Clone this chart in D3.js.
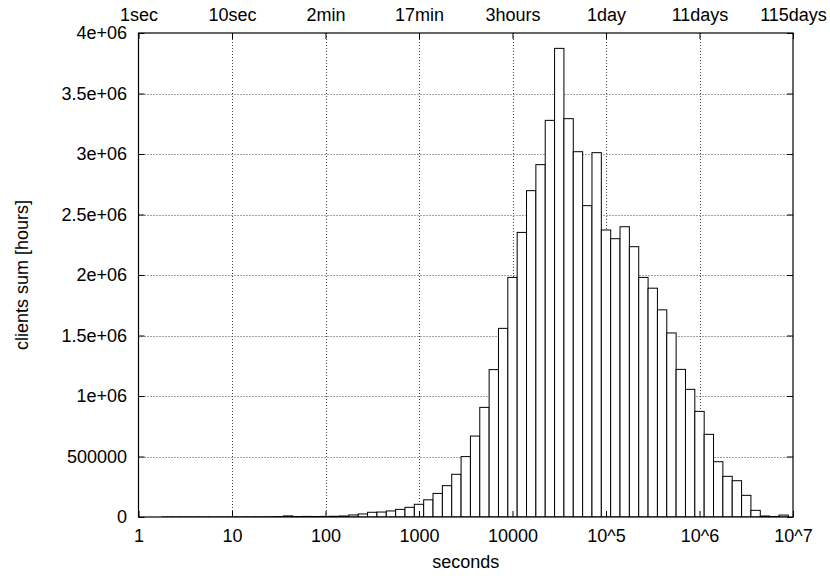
<!DOCTYPE html>
<html>
<head>
<meta charset="utf-8">
<script src="https://cdn.jsdelivr.net/npm/d3@7"></script>
<style>
  html, body { margin: 0; padding: 0; background: #fff; }
  svg { display: block; }
  text { font-family: "Liberation Sans", Arial, Helvetica, sans-serif; fill: #000; }
</style>
</head>
<body>
<svg id="chart" width="830" height="576"></svg>
<script>
// Histogram of session durations: 10 logarithmic bins per decade,
// bin k is centred on 10^(k/10) seconds.
const binExponents = d3.range(0, 71).map(k => k / 10);

// Summed client hours per bin
const clientHours = [
  0, 0, 0, 300, 500, 500, 400, 300, 300, 400,
  600, 800, 1000, 1200, 1500, 3000, 9000, 4000, 5000, 4000,
  5000, 6000, 8000, 17000, 25000, 39000, 41000, 50000, 63000, 80000,
  105000, 142000, 195000, 259000, 353000, 499000, 669000, 906000, 1218000, 1559000,
  1980000, 2352000, 2697000, 2912000, 3278000, 3873000, 3292000, 3019000, 2573000, 3011000,
  2372000, 2300000, 2399000, 2234000, 1980000, 1891000, 1712000, 1521000, 1220000, 1055000,
  873000, 683000, 457000, 336000, 300000, 179000, 55000, 8000, 4000, 16000,
  0
];

// Axis ticks
const xTickValues = [1, 1e1, 1e2, 1e3, 1e4, 1e5, 1e6, 1e7];
const xTickLabels = ["1", "10", "100", "1000", "10000", "10^5", "10^6", "10^7"];
const topTickLabels = ["1sec", "10sec", "2min", "17min", "3hours", "1day", "11days", "115days"];
const yTickValues = [0, 500000, 1000000, 1500000, 2000000, 2500000, 3000000, 3500000, 4000000];
const yTickLabels = ["0", "500000", "1e+06", "1.5e+06", "2e+06", "2.5e+06", "3e+06", "3.5e+06", "4e+06"];

const margin = { left: 138.5, right: 37, top: 33, bottom: 59 };
const W = 830, H = 576;
const svg = d3.select("#chart");

const x = d3.scaleLog().domain([1, 1e7]).range([margin.left, W - margin.right]);
const y = d3.scaleLinear().domain([0, 4e6]).range([H - margin.bottom, margin.top]);

const FONT = 18;
const tickLen = 6;

svg.append("defs").append("clipPath").attr("id", "plot-clip")
  .append("rect")
  .attr("x", x.range()[0]).attr("y", y.range()[1])
  .attr("width", x.range()[1] - x.range()[0])
  .attr("height", y.range()[0] - y.range()[1]);

// Grid
const grid = svg.append("g").attr("class", "grid")
  .attr("stroke", "#444").attr("stroke-width", 1).attr("stroke-dasharray", "1,2");
grid.selectAll("line.gx").data(xTickValues.slice(1, -1)).join("line")
  .attr("x1", d => Math.round(x(d)) + 0.5).attr("x2", d => Math.round(x(d)) + 0.5)
  .attr("y1", y.range()[0]).attr("y2", y.range()[1]);
grid.selectAll("line.gy").data(yTickValues.slice(1, -1)).join("line")
  .attr("y1", d => Math.round(y(d)) + 0.5).attr("y2", d => Math.round(y(d)) + 0.5)
  .attr("x1", x.range()[0]).attr("x2", x.range()[1]);

// Bars
const bins = binExponents.map((e, i) => ({
  x0: Math.pow(10, e - 0.05),
  x1: Math.pow(10, e + 0.05),
  v: clientHours[i]
}));
svg.append("g").attr("clip-path", "url(#plot-clip)")
  .selectAll("rect").data(bins).join("rect")
  .attr("x", d => x(d.x0))
  .attr("width", d => x(d.x1) - x(d.x0))
  .attr("y", d => y(d.v))
  .attr("height", d => y(0) - y(d.v))
  .attr("fill", "#fff")
  .attr("stroke", "#000")
  .attr("stroke-width", 1);

// Axes (ticks pointing inward on all four sides)
const fmtBottom = d => xTickLabels[xTickValues.indexOf(d)];
const fmtTop = d => topTickLabels[xTickValues.indexOf(d)];
const fmtY = d => yTickLabels[yTickValues.indexOf(d)];

function styleAxis(g) {
  g.select(".domain").remove();
  g.selectAll(".tick line").attr("stroke", "#000").attr("stroke-width", 1);
  g.selectAll(".tick text")
    .attr("font-size", FONT)
    .attr("font-family", "Liberation Sans, Arial, Helvetica, sans-serif")
    .attr("fill", "#000");
}

svg.append("g")
  .attr("transform", `translate(0,${y.range()[0]})`)
  .call(d3.axisBottom(x).tickValues(xTickValues).tickFormat(fmtBottom)
    .tickSizeInner(-tickLen).tickSizeOuter(0).tickPadding(12))
  .call(styleAxis);

svg.append("g")
  .attr("transform", `translate(0,${y.range()[1]})`)
  .call(d3.axisTop(x).tickValues(xTickValues).tickFormat(fmtTop)
    .tickSizeInner(-tickLen).tickSizeOuter(0).tickPadding(12))
  .call(styleAxis);

svg.append("g")
  .attr("transform", `translate(${x.range()[0]},0)`)
  .call(d3.axisLeft(y).tickValues(yTickValues).tickFormat(fmtY)
    .tickSizeInner(-tickLen).tickSizeOuter(0).tickPadding(11.5))
  .call(styleAxis);

svg.append("g")
  .attr("transform", `translate(${x.range()[1]},0)`)
  .call(d3.axisRight(y).tickValues(yTickValues).tickFormat("")
    .tickSizeInner(-tickLen).tickSizeOuter(0))
  .call(styleAxis);

// Frame
svg.append("rect")
  .attr("x", x.range()[0]).attr("y", y.range()[1])
  .attr("width", x.range()[1] - x.range()[0])
  .attr("height", y.range()[0] - y.range()[1])
  .attr("fill", "none").attr("stroke", "#000").attr("stroke-width", 1.2);

// Axis titles
svg.append("text")
  .attr("x", (x.range()[0] + x.range()[1]) / 2)
  .attr("y", 568)
  .attr("text-anchor", "middle")
  .attr("font-size", FONT)
  .text("seconds");

svg.append("text")
  .attr("transform", `translate(28,${(y.range()[0] + y.range()[1]) / 2}) rotate(-90)`)
  .attr("text-anchor", "middle")
  .attr("font-size", FONT)
  .text("clients sum [hours]");
</script>
</body>
</html>
